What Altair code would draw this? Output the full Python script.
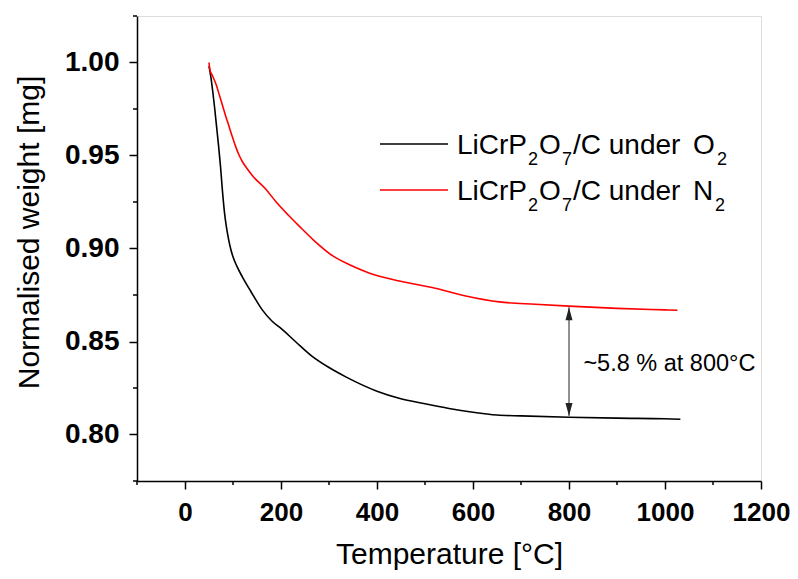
import altair as alt
import pandas as pd

# ---- data ----
o2_T = [50, 54, 58, 62, 66, 70, 74, 78, 82, 86, 90, 95, 100, 108, 120, 137, 161, 181, 200,
        230, 265, 300, 335, 400, 446, 500, 550, 600, 650, 700, 800, 900, 1000, 1032]
o2_w = [0.998, 0.992, 0.984, 0.975, 0.965, 0.955, 0.944, 0.931, 0.920, 0.912, 0.906, 0.900,
        0.8955, 0.8905, 0.8845, 0.877, 0.867, 0.861, 0.857, 0.850, 0.842, 0.836, 0.831,
        0.8233, 0.8195, 0.8165, 0.8140, 0.8120, 0.8105, 0.8100, 0.8093, 0.8088, 0.8085, 0.8082]

n2_T = [50, 52, 57, 65, 71, 78, 85, 92, 99, 106, 113, 120, 127, 141, 168, 190, 215, 238, 270,
        308, 345, 382, 447, 515, 585, 655, 730, 800, 900, 1000, 1026]
n2_w = [1.000, 0.996, 0.993, 0.988, 0.983, 0.977, 0.971, 0.9655, 0.9598, 0.9545, 0.950,
        0.9465, 0.9438, 0.939, 0.932, 0.925, 0.918, 0.912, 0.904, 0.896, 0.891, 0.887, 0.8825,
        0.879, 0.8745, 0.8713, 0.8700, 0.869, 0.8678, 0.867, 0.8668]

series_names = ["LiCrP2O7/C under O2", "LiCrP2O7/C under N2"]
series_colors = ["#000000", "#ff0000"]

x_ticks = [0, 200, 400, 600, 800, 1000, 1200]
x_minor = [-100, 100, 300, 500, 700, 900, 1100]
y_ticks = [0.80, 0.85, 0.90, 0.95, 1.00]
y_minor = [0.775, 0.825, 0.875, 0.925, 0.975, 1.025]

arrow_T = [800]
arrow_top = [0.8684]
arrow_bottom = [0.8100]

ann_T = [830]
ann_w = [0.8342]
ann_text = ["~5.8 % at 800°C"]

FONT = "Liberation Sans"
W, H = 624, 465

df = pd.concat([
    pd.DataFrame({"T": o2_T, "w": o2_w, "s": series_names[0]}),
    pd.DataFrame({"T": n2_T, "w": n2_w, "s": series_names[1]}),
])

xscale = alt.Scale(domain=[-100, 1200], nice=False, zero=False)
yscale = alt.Scale(domain=[0.775, 1.025], nice=False, zero=False)

lines = alt.Chart(df).mark_line(strokeWidth=1.6, interpolate="monotone").encode(
    x=alt.X("T:Q", scale=xscale,
            axis=alt.Axis(values=x_ticks, format="d", title="Temperature [°C]", grid=False,
                          labelFont=FONT, labelFontSize=26, labelFontWeight="bold",
                          labelColor="black", labelPadding=10, labelFlush=False,
                          tickSize=8, tickWidth=1.5, tickColor="black",
                          domainWidth=1.5, domainColor="black",
                          titleFont=FONT, titleFontSize=30, titleFontWeight="normal",
                          titleColor="black", titlePadding=14)),
    y=alt.Y("w:Q", scale=yscale,
            axis=alt.Axis(values=y_ticks, format=".2f", title="Normalised weight [mg]",
                          grid=False, labelFont=FONT, labelFontSize=28,
                          labelFontWeight="bold", labelColor="black", labelPadding=10,
                          labelFlush=False, tickSize=8, tickWidth=1.5, tickColor="black",
                          domainWidth=1.5, domainColor="black",
                          titleFont=FONT, titleFontSize=30, titleFontWeight="normal",
                          titleColor="black", titlePadding=20, titleY=216)),
    color=alt.Color("s:N", scale=alt.Scale(domain=series_names, range=series_colors),
                    legend=None),
)

minor_x = alt.Chart(pd.DataFrame({"T": x_minor})).mark_rule(
    color="black", strokeWidth=1.5).encode(
    x=alt.X("T:Q", scale=xscale), y=alt.value(H), y2=alt.value(H + 4))

minor_y = alt.Chart(pd.DataFrame({"w": y_minor})).mark_rule(
    color="black", strokeWidth=1.5).encode(
    y=alt.Y("w:Q", scale=yscale), x=alt.value(-4), x2=alt.value(0))

arrow_df = pd.DataFrame({"T": arrow_T, "top": arrow_top, "bot": arrow_bottom})
arrow_line = alt.Chart(arrow_df).mark_rule(color="#222222", strokeWidth=1).encode(
    x=alt.X("T:Q", scale=xscale), y=alt.Y("top:Q", scale=yscale), y2="bot:Q")
head_up = alt.Chart(arrow_df).mark_point(
    shape="M0,0L0.27,1L-0.27,1Z", filled=True, size=676, color="#222222", opacity=1).encode(
    x=alt.X("T:Q", scale=xscale), y=alt.Y("top:Q", scale=yscale))
head_down = alt.Chart(arrow_df).mark_point(
    shape="M0,0L0.27,-1L-0.27,-1Z", filled=True, size=676, color="#222222", opacity=1).encode(
    x=alt.X("T:Q", scale=xscale), y=alt.Y("bot:Q", scale=yscale))

ann = alt.Chart(pd.DataFrame({"T": ann_T, "w": ann_w, "t": ann_text})).mark_text(
    font=FONT, fontSize=23.5, align="left", baseline="alphabetic", color="black").encode(
    x=alt.X("T:Q", scale=xscale), y=alt.Y("w:Q", scale=yscale), text="t:N")

# ---- manual legend with real subscripts ----
leg_rows = [128, 174]          # line y positions (plot coordinates)
leg_base = [138.3, 184.3]      # text baselines
layers = []
for i, c in enumerate(series_colors):
    layers.append(alt.Chart(pd.DataFrame({"k": [0]})).mark_rule(color=c, strokeWidth=1.6).encode(
        x=alt.value(243), x2=alt.value(311), y=alt.value(leg_rows[i])))

def txt(s, x, y, size):
    return alt.Chart(pd.DataFrame({"t": [s]})).mark_text(
        font=FONT, fontSize=size, align="left", baseline="alphabetic", color="black").encode(
        text="t:N", x=alt.value(x), y=alt.value(y))

gas = ["O", "N"]
for i in range(2):
    b = leg_base[i]
    layers += [
        txt("LiCrP", 320, b, 28),
        txt("2", 391, b + 11, 18),
        txt("O", 402, b, 28),
        txt("7", 425, b + 11, 18),
        txt("/C under", 436, b, 28),
        txt(gas[i], 556, b, 28),
        txt("2", 580 if i == 0 else 578, b + 11, 18),
    ]

chart = alt.layer(lines, minor_x, minor_y, arrow_line, head_up, head_down, ann, *layers).properties(
    width=W, height=H,
    autosize=alt.AutoSizeParams(type="none"),
    padding={"left": 129, "top": 8, "right": 29, "bottom": 90},
).configure_view(stroke=None).configure(background="white")

chart.save("out.html", embed_options={"renderer": "svg", "actions": False})
